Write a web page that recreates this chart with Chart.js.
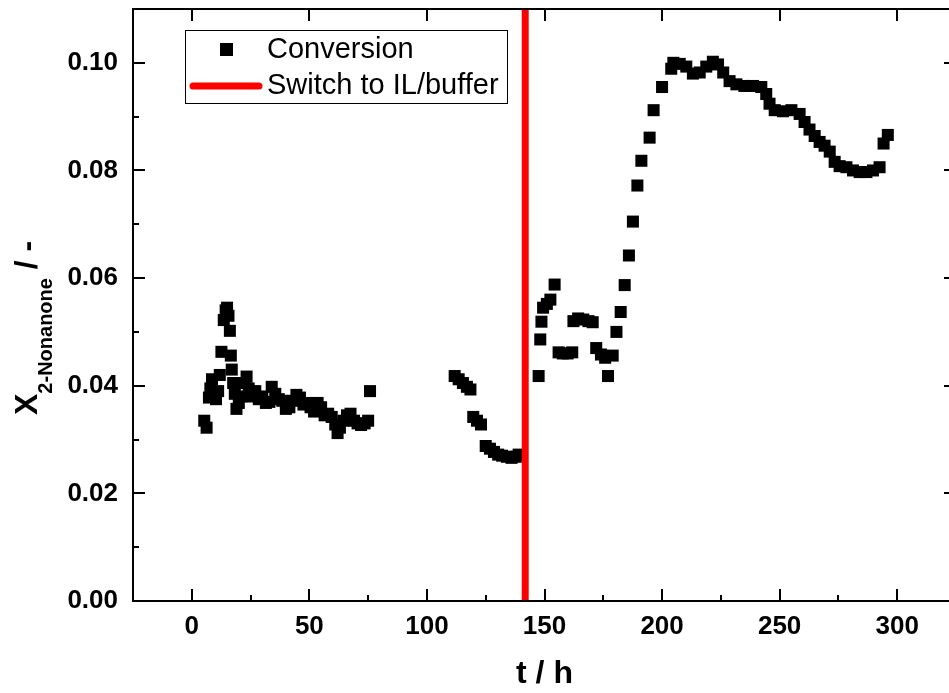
<!DOCTYPE html>
<html><head><meta charset="utf-8">
<script src="https://cdn.jsdelivr.net/npm/chart.js@4/dist/chart.umd.min.js"></script>
<style>
html,body{margin:0;padding:0;background:#fff;overflow:hidden;}
#wrap{position:relative;width:970px;height:693px;}
</style></head><body>
<div id="wrap"><canvas id="c"></canvas></div>
<script>
// ---- data ----
const timeH = [
  5.3, 6.3, 7.3, 7.9, 8.6, 9.5, 10.3, 11.2, 11.9, 12.6, 13.6, 14.4, 15.0, 15.6, 16.2, 16.6, 17.0, 17.6, 18.3, 19.0,
  20.0, 21.0, 22.5, 23.3, 24.2, 25.5, 27.0, 28.5, 30.0, 31.5, 33.0, 34.0, 35.5, 37.0, 38.5, 40.0, 41.5, 43.0, 44.5, 46.0,
  47.5, 49.0, 50.5, 52.0, 53.5, 55.0, 56.5, 58.0, 59.5, 61.0, 62.0, 63.0, 64.5, 66.0, 67.5, 69.0, 70.5, 72.0, 73.5, 75.0, 75.8,
  111.8, 113.5, 115.3, 117.0, 118.5, 119.7, 121.3, 123.0, 125.0, 126.8, 128.5, 130.3, 132.0, 134.0, 136.0, 137.8, 139.0,
  147.5, 148.2, 148.7, 149.4, 151.0, 152.5, 154.3, 156.0, 157.8, 159.8, 161.8, 162.3, 164.3, 166.5, 168.7, 170.5,
  172.0, 174.0, 175.8, 177.0, 179.0, 180.6, 182.4, 184.1, 185.9, 187.6, 189.5, 191.2, 194.7, 196.4, 200.0, 203.9, 204.8,
  207.5, 210.3, 213.1, 216.0, 218.8, 221.6, 223.8, 226.0, 228.7, 231.6, 235.0, 238.7, 242.2, 244.3, 245.7, 247.9,
  251.4, 255.0, 258.5, 260.6, 262.7, 264.9, 267.0, 269.1, 271.3, 273.4, 275.5, 278.4, 281.2, 284.0, 286.9, 289.7,
  292.5, 294.2, 296.0
];
const conversion = [
  0.0335, 0.0322, 0.0378, 0.0395, 0.0412, 0.0385, 0.0375, 0.0390, 0.0420, 0.0463, 0.0522, 0.0540, 0.0545, 0.0530, 0.0502, 0.0456, 0.0430, 0.0405, 0.0385, 0.0357,
  0.0368, 0.0380, 0.0405, 0.0417, 0.0395, 0.0380, 0.0390, 0.0375, 0.0380, 0.0368, 0.0370, 0.0398, 0.0385, 0.0375, 0.0372, 0.0357, 0.0360, 0.0372, 0.0383, 0.0378,
  0.0365, 0.0368, 0.0360, 0.0352, 0.0368, 0.0360, 0.0345, 0.0348, 0.0342, 0.0328, 0.0312, 0.0322, 0.0335, 0.0345, 0.0348, 0.0335, 0.0330, 0.0327, 0.0330, 0.0335, 0.0390,
  0.0418, 0.0412, 0.0405, 0.0398, 0.0393, 0.0342, 0.0335, 0.0328, 0.0288, 0.0283, 0.0277, 0.0272, 0.0270, 0.0268, 0.0266, 0.0268, 0.0272,
  0.0418, 0.0486, 0.0519, 0.0545, 0.0552, 0.0560, 0.0588, 0.0462, 0.0460, 0.0460, 0.0462, 0.0520, 0.0525, 0.0523, 0.0520, 0.0518,
  0.0470, 0.0458, 0.0452, 0.0418, 0.0456, 0.0500, 0.0537, 0.0587, 0.0642, 0.0705, 0.0772, 0.0818, 0.0861, 0.0912, 0.0955, 0.0989, 0.1000,
  0.0998, 0.0993, 0.0980, 0.0982, 0.0993, 0.1002, 0.0997, 0.0982, 0.0966, 0.0960, 0.0957, 0.0957, 0.0955, 0.0942, 0.0924, 0.0912,
  0.0910, 0.0912, 0.0905, 0.0890, 0.0876, 0.0864, 0.0853, 0.0846, 0.0835, 0.0816, 0.0808, 0.0806, 0.0800, 0.0797, 0.0797, 0.0800,
  0.0806, 0.0850, 0.0866
];
const switchTime = 141.8;
const seriesLabels = ['Conversion', 'Switch to IL/buffer'];
const xRange = [-25, 325];
const yRange = [0, 0.11];
const xTicks = [0, 50, 100, 150, 200, 250, 300];
const xMinorTicks = [25, 75, 125, 175, 225, 275];
const yTicks = [0, 0.02, 0.04, 0.06, 0.08, 0.10];
const yMinorTicks = [0.01, 0.03, 0.05, 0.07, 0.09];
const xTitle = 't / h';
const yTitleMain = 'X';
const yTitleSub = '2-Nonanone';
const yTitleTail = ' / -';

const FONT = "'Liberation Sans', Arial, sans-serif";

const framePlugin = {
  id: 'frame',
  afterDraw(chart) {
    const ctx = chart.ctx;
    const a = chart.chartArea;
    const xs = chart.scales.x, ys = chart.scales.y;
    ctx.save();
    ctx.strokeStyle = '#000';
    ctx.lineWidth = 2;
    ctx.strokeRect(a.left, a.top, a.right - a.left, a.bottom - a.top);
    ctx.beginPath();
    xTicks.forEach(v => {
      const p = Math.round(xs.getPixelForValue(v));
      ctx.moveTo(p, a.bottom); ctx.lineTo(p, a.bottom - 12);
      ctx.moveTo(p, a.top); ctx.lineTo(p, a.top + 12);
    });
    xMinorTicks.forEach(v => {
      const p = Math.round(xs.getPixelForValue(v));
      ctx.moveTo(p, a.bottom); ctx.lineTo(p, a.bottom - 6);
    });
    yTicks.forEach(v => {
      const p = Math.round(ys.getPixelForValue(v));
      ctx.moveTo(a.left, p); ctx.lineTo(a.left + 12, p);
      ctx.moveTo(a.right, p); ctx.lineTo(a.right - 12, p);
    });
    yMinorTicks.forEach(v => {
      const p = Math.round(ys.getPixelForValue(v));
      ctx.moveTo(a.left, p); ctx.lineTo(a.left + 6, p);
    });
    ctx.stroke();

    // y axis title with subscript
    ctx.fillStyle = '#000';
    ctx.translate(37, 415);
    ctx.rotate(-Math.PI / 2);
    ctx.textBaseline = 'alphabetic';
    ctx.textAlign = 'left';
    ctx.font = 'bold 32px ' + FONT;
    ctx.fillText(yTitleMain, 0, 0);
    let w = ctx.measureText(yTitleMain).width;
    ctx.font = 'bold 20px ' + FONT;
    ctx.fillText(yTitleSub, w, 15);
    w += ctx.measureText(yTitleSub).width;
    ctx.font = 'bold 32px ' + FONT;
    ctx.fillText(yTitleTail, w, 0);
    ctx.restore();

    // legend
    ctx.save();
    ctx.strokeStyle = '#000';
    ctx.lineWidth = 1;
    ctx.fillStyle = '#fff';
    ctx.fillRect(185.5, 30.5, 322, 73);
    ctx.strokeRect(185.5, 30.5, 322, 73);
    ctx.fillStyle = '#000';
    ctx.fillRect(220, 43, 13, 13);
    ctx.strokeStyle = '#ff0000';
    ctx.lineWidth = 7;
    ctx.lineCap = 'round';
    ctx.beginPath(); ctx.moveTo(193, 86); ctx.lineTo(259, 86); ctx.stroke();
    ctx.fillStyle = '#000';
    ctx.font = '29px ' + FONT;
    ctx.textBaseline = 'middle';
    ctx.textAlign = 'left';
    ctx.fillText(seriesLabels[0], 267, 50);
    ctx.fillText(seriesLabels[1], 267, 86);
    ctx.restore();
  }
};

const pts = timeH.map((t, i) => ({ x: t, y: conversion[i] }));

new Chart(document.getElementById('c'), {
  type: 'scatter',
  data: {
    datasets: [
      {
        type: 'line',
        label: seriesLabels[1],
        data: [{ x: switchTime, y: yRange[0] }, { x: switchTime, y: yRange[1] }],
        borderColor: '#ff0000',
        borderWidth: 7,
        pointRadius: 0,
        fill: false,
        order: 0
      },
      {
        label: seriesLabels[0],
        data: pts,
        pointStyle: 'rect',
        pointRadius: 8.5,
        pointBorderWidth: 0,
        backgroundColor: '#000',
        borderColor: '#000',
        order: 1
      }
    ]
  },
  options: {
    responsive: true,
    maintainAspectRatio: false,
    animation: false,
    events: [],
    layout: { padding: { top: 9, right: 14, left: 0, bottom: 0 } },
    plugins: { legend: { display: false }, tooltip: { enabled: false } },
    scales: {
      x: {
        type: 'linear',
        min: xRange[0], max: xRange[1],
        afterBuildTicks: s => { s.ticks = xTicks.map(v => ({ value: v })); },
        afterFit: s => { s.height = 92; s.paddingLeft = 0; s.paddingRight = 0; },
        grid: { display: false, drawTicks: false },
        border: { display: false },
        ticks: {
          color: '#000', padding: 10,
          font: { family: FONT, size: 26, weight: 'bold' },
          callback: v => String(v)
        },
        title: {
          display: true, text: xTitle, color: '#000',
          font: { family: FONT, size: 32, weight: 'bold' },
          padding: { top: 0, bottom: 0 }
        }
      },
      y: {
        type: 'linear',
        min: yRange[0], max: yRange[1],
        afterBuildTicks: s => { s.ticks = yTicks.map(v => ({ value: v })); },
        afterFit: s => { s.width = 133; s.paddingTop = 0; s.paddingBottom = 0; },
        grid: { display: false, drawTicks: false },
        border: { display: false },
        ticks: {
          color: '#000', padding: 15,
          font: { family: FONT, size: 26, weight: 'bold' },
          callback: v => Number(v).toFixed(2)
        }
      }
    }
  },
  plugins: [framePlugin]
});
</script>
</body></html>
